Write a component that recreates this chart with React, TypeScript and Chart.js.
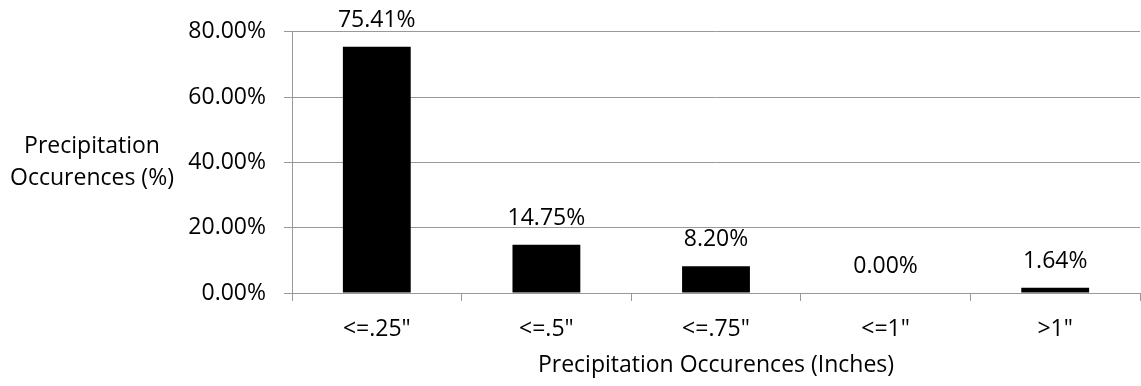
import React, { useEffect, useRef } from "react";
import { Chart, registerables } from "chart.js";

Chart.register(...registerables);

// Share of precipitation events by amount bucket
const categories = ['<=.25"', '<=.5"', '<=.75"', '<=1"', '>1"'];
const occurrencePct = [75.41, 14.75, 8.2, 0.0, 1.64];
const yTicks = [0, 20, 40, 60, 80];

const yTitleLines = ["Precipitation", "Occurences (%)"];
const xTitle = "Precipitation Occurences (Inches)";

const FONT_FAMILY = "'Open Sans', sans-serif";
const FONT_SIZE = 23;
const GRID_COLOR = "#999999";

// Percentage labels above each bar plus the two axis titles
const annotate = {
  id: "annotate",
  afterDatasetsDraw(chart: any) {
    const { ctx, chartArea } = chart;
    const meta = chart.getDatasetMeta(0);
    ctx.save();
    ctx.fillStyle = "#000";
    ctx.font = `${FONT_SIZE}px ${FONT_FAMILY}`;
    ctx.textAlign = "center";
    ctx.textBaseline = "alphabetic";
    meta.data.forEach((bar: any, i: number) => {
      ctx.fillText(occurrencePct[i].toFixed(2) + "%", bar.x, bar.y - 20);
    });

    // vertical-axis title, written horizontally on two lines
    ctx.textBaseline = "middle";
    const midY = (chartArea.top + chartArea.bottom) / 2;
    const lineGap = 32;
    yTitleLines.forEach((line, i) => {
      ctx.fillText(line, 92, midY + (i - (yTitleLines.length - 1) / 2) * lineGap);
    });

    // horizontal-axis title
    ctx.fillText(xTitle, (chartArea.left + chartArea.right) / 2, 365);
    ctx.restore();
  },
};

export default function App() {
  const canvasRef = useRef<HTMLCanvasElement | null>(null);

  useEffect(() => {
    if (!canvasRef.current) return;
    const chart = new Chart(canvasRef.current, {
      type: "bar",
      data: {
        labels: categories,
        datasets: [
          {
            data: occurrencePct,
            backgroundColor: "#000000",
            borderWidth: 0,
            categoryPercentage: 1,
            barPercentage: 0.4,
          },
        ],
      },
      options: {
        responsive: false,
        animation: false,
        layout: { padding: { top: 29, right: 1, left: 0, bottom: 0 } },
        plugins: {
          legend: { display: false },
          tooltip: { enabled: false },
        },
        scales: {
          x: {
            offset: true,
            grid: {
              offset: true,
              drawOnChartArea: false,
              drawTicks: true,
              tickLength: 8,
              color: GRID_COLOR,
            },
            border: { color: GRID_COLOR, width: 1 },
            ticks: {
              color: "#000",
              padding: 15,
              maxRotation: 0,
              font: { family: FONT_FAMILY, size: FONT_SIZE },
            },
            afterFit(scale: any) {
              scale.height = 93;
            },
          },
          y: {
            min: 0,
            max: 80,
            afterBuildTicks(scale: any) {
              scale.ticks = yTicks.map((v) => ({ value: v }));
            },
            grid: {
              color: GRID_COLOR,
              tickLength: 8,
              drawTicks: true,
            },
            border: { color: GRID_COLOR, width: 1 },
            ticks: {
              color: "#000",
              padding: 18,
              font: { family: FONT_FAMILY, size: FONT_SIZE },
              callback: (v: any) => Number(v).toFixed(2) + "%",
            },
            afterFit(scale: any) {
              scale.width = 292;
            },
          },
        },
      },
      plugins: [annotate],
    });
    return () => chart.destroy();
  }, []);

  return (
    <div style={{ position: "fixed", left: 0, top: 0, width: 1141, height: 386, background: "#fff" }}>
      <canvas ref={canvasRef} width={1141} height={386} style={{ display: "block" }} />
    </div>
  );
}
